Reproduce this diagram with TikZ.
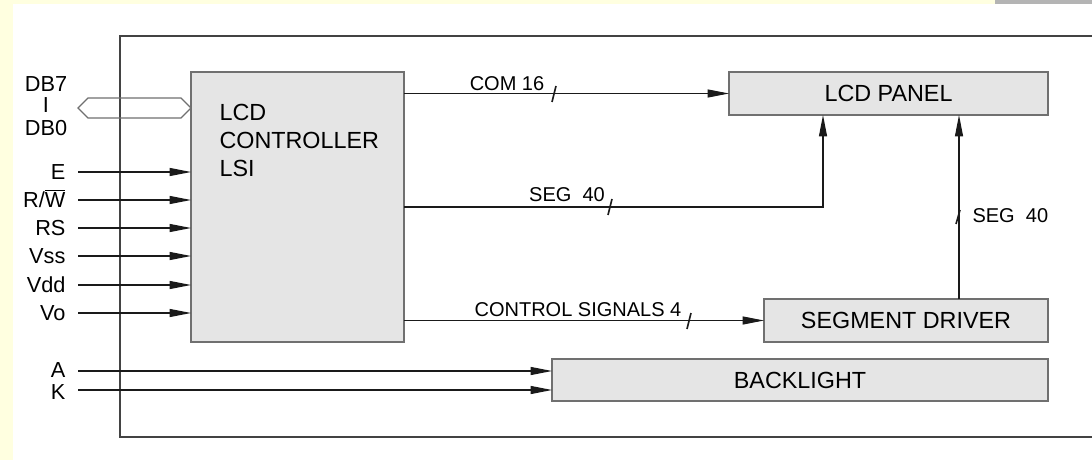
\documentclass[tikz,border=0pt]{standalone}
\usepackage{fontspec}
\setmainfont{Liberation Sans}
\usetikzlibrary{arrows.meta}
\definecolor{cyellow}{HTML}{FFFFE0}
\definecolor{cbar}{HTML}{B4B4B4}
\definecolor{cfill}{HTML}{E5E5E5}
\definecolor{cedge}{HTML}{707070}
\definecolor{cline}{HTML}{1A1A1A}
\tikzset{
  every picture/.style={line width=0.8pt},
  box/.style={draw=cedge, fill=cfill, inner sep=0pt, outer sep=0pt, align=center, font=\fontsize{17.5}{21}\selectfont},
  boxtext/.style={inner sep=0pt, align=left, font=\fontsize{17.5}{21}\selectfont},
  arrow/.style={-{Triangle[length=16pt, width=6pt]}, draw=cline},
  tick/.style={draw=cline, line width=1.2pt},
  pin/.style={font=\fontsize{16.3}{19}\selectfont, inner sep=0pt, text depth=0pt},
  note/.style={font=\fontsize{15}{18}\selectfont, inner sep=0pt},
}

\begin{document}
\begin{tikzpicture}[x=0.75pt, y=-0.75pt]
  % page, margins and frame
  \useasboundingbox (0,0) rectangle (1092,460);
  \fill[cyellow] (0,0) rectangle (1092,460);
  \fill[white] (13,4) rectangle (1092,460);
  \fill[cbar] (995,0) rectangle (1092,4);
  \draw[draw=cedge!60!black] (1092,36) -- (120,36) -- (120,437) -- (1092,437);

  % blocks
  \node[box, minimum width=159.75pt, minimum height=202.5pt] (ctrl) at (297.5,207) {};
  \node[boxtext, anchor=west] (ctrltext) at (219,140) {LCD\\CONTROLLER\\LSI};
  \node[box, minimum width=239.25pt, minimum height=32.25pt] (lcd) at (888.5,93.5) {LCD PANEL};
  \node[box, minimum width=213pt, minimum height=32.25pt] (segdrv) at (906,320.5) {SEGMENT DRIVER};
  \node[box, minimum width=372pt, minimum height=31.5pt] (blight) at (800,380) {BACKLIGHT};

  % data bus
  \node[pin, anchor=base] (db7) at (46,92) {DB7};
  \node[pin, anchor=base] (dbsep) at (46,113) {I};
  \node[pin, anchor=base] (db0) at (46,135) {DB0};
  \coordinate (bus) at (78,108);
  \draw[draw=cedge] (bus) -- ++(10,-10) -- (181,98) -- (ctrl.west |- bus) -- (181,118) -- (88,118) -- cycle;

  % control pins
  \foreach \id/\txt/\y in {e/E/172, rw/{R/$\overline{\mbox{W}}$}/200, rs/RS/228, vss/Vss/256, vdd/Vdd/285, vo/Vo/313} {
    \node[pin, anchor=base east] (\id) at (66,\y+7.5) {\txt};
    \coordinate (\id-s) at (78,\y);
    \draw[arrow] (\id-s) -- (\id-s -| ctrl.west);
  }

  % backlight pins
  \foreach \id/\txt/\y/\dy in {a/A/371/-1.5, k/K/390/1.5} {
    \node[pin, anchor=base east] (\id) at (66,\y+7.5+\dy) {\txt};
    \coordinate (\id-s) at (78,\y);
    \draw[arrow] (\id-s) -- (\id-s -| blight.west);
  }

  % COM 16
  \draw[arrow] (lcd.west -| ctrl.east) -- (lcd.west);
  \node[note] (com) at (507,84) {COM 16};
  \coordinate (com-t) at (554,94);
  \draw[tick] (com-t) ++(-2,8) -- ++(4,-16);

  % SEG 40 from controller
  \coordinate (seg-a) at (823,207);
  \draw[arrow] (ctrl.east) -- (seg-a) -- (seg-a |- lcd.south);
  \node[note] (segl) at (567,195) {SEG~~40};
  \coordinate (segl-t) at (610,207);
  \draw[tick] (segl-t) ++(-2,8) -- ++(4,-16);

  % control signals
  \draw[arrow] (segdrv.west -| ctrl.east) -- (segdrv.west);
  \node[note] (ctl) at (578,310) {CONTROL SIGNALS 4};
  \coordinate (ctl-t) at (689,321);
  \draw[tick] (ctl-t) ++(-2,8) -- ++(4,-16);

  % SEG 40 from segment driver
  \coordinate (seg-b) at (959,0);
  \draw[arrow] (seg-b |- segdrv.north) -- (seg-b |- lcd.south);
  \node[note, anchor=west] (segr) at (972,216) {SEG~~40};
  \coordinate (segr-t) at (958,217);
  \draw[tick] (segr-t) ++(-2,7) -- ++(4,-14);
\end{tikzpicture}
\end{document}
